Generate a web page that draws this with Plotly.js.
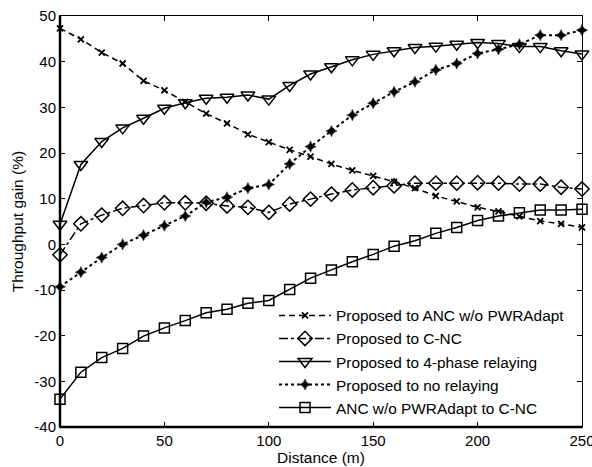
<!DOCTYPE html>
<html>
<head>
<meta charset="utf-8">
<script src="https://cdn.plot.ly/plotly-3.0.1.min.js"></script>
<style>html,body{margin:0;padding:0;background:#fff;}#chart{width:592px;height:467px;}</style>
</head>
<body>
<div id="chart"></div>
<script>
const distance = [0,10,20,30,40,50,60,70,80,90,100,110,120,130,140,150,160,170,180,190,200,210,220,230,240,250];
const propToANC = [47.3,44.9,42.0,39.6,35.8,33.7,31.2,28.6,26.5,24.1,22.4,20.7,19.2,17.6,16.2,15.0,13.7,12.3,10.6,9.4,8.1,7.2,6.1,5.1,4.5,3.7];
const propToCNC = [-2.3,4.5,6.4,7.9,8.5,9.1,9.1,9.0,8.4,8.1,7.0,8.8,9.9,11.0,11.9,12.4,12.8,13.4,13.4,13.4,13.5,13.4,13.2,13.2,12.5,12.1];
const propTo4Phase = [4.4,17.5,22.5,25.5,27.6,29.8,31.0,32.0,32.2,32.7,31.8,34.8,37.3,38.9,40.4,41.6,42.4,43.1,43.4,43.8,44.2,44.0,43.3,43.3,42.4,41.7];
const propToNoRelay = [-9.3,-6.1,-2.9,0.0,2.0,4.1,6.2,9.2,10.3,12.3,13.1,17.6,21.4,24.8,28.3,30.9,33.4,35.6,38.2,39.6,41.8,42.7,43.8,45.8,45.8,46.9];
const ancToCNC = [-33.9,-28.0,-24.8,-22.8,-20.1,-18.3,-16.7,-15.0,-14.2,-12.9,-12.3,-9.9,-7.4,-5.6,-3.8,-2.2,-0.4,0.8,2.4,3.7,5.2,6.2,6.9,7.5,7.5,7.7];
const seriesNames = ["Proposed to ANC w/o PWRAdapt","Proposed to C-NC","Proposed to 4-phase relaying","Proposed to no relaying","ANC w/o PWRAdapt to C-NC"];
const xTicks = [0,50,100,150,200,250];
const yTicks = [-40,-30,-20,-10,0,10,20,30,40,50];

const FONT = "Liberation Sans, Arial, sans-serif";
const traces = [
  {y: propToANC, name: seriesNames[0], line:{dash:'6px,4px', width:1.5, color:'#000'},
   marker:{symbol:'x-thin', size:6, color:'#000', line:{width:1.8, color:'#000'}}},
  {y: propToCNC, name: seriesNames[1], line:{dash:'dashdot', width:1.5, color:'#000'},
   marker:{symbol:'diamond-open', size:11, color:'#000', line:{width:1.5, color:'#000'}}},
  {y: propTo4Phase, name: seriesNames[2], line:{dash:'solid', width:1.5, color:'#000'},
   marker:{symbol:'triangle-down-open', size:12, color:'#000', line:{width:1.5, color:'#000'}}},
  {y: propToNoRelay, name: seriesNames[3], line:{dash:'dot', width:2, color:'#000'},
   marker:{symbol:'star-diamond', size:8, color:'#000', line:{width:0.5, color:'#000'}}},
  {y: ancToCNC, name: seriesNames[4], line:{dash:'solid', width:1.5, color:'#000'},
   marker:{symbol:'square-open', size:10, color:'#000', line:{width:1.5, color:'#000'}}}
].map(t => Object.assign({x: distance, type:'scatter', mode:'lines+markers', cliponaxis:false}, t));

const axisCommon = {
  showgrid:false, zeroline:false, showline:true, linecolor:'#000', linewidth:1,
  mirror:'allticks', ticks:'inside', ticklen:5, tickwidth:1, tickcolor:'#000',
  ticklabeloverflow:'allow',
  tickfont:{family:FONT, size:15, color:'#000'}
};

const layout = {
  width:592, height:467,
  margin:{l:60, r:10, t:16, b:40},
  paper_bgcolor:'#fff', plot_bgcolor:'#fff',
  font:{family:FONT, size:15, color:'#000'},
  showlegend:true,
  legend:{x:0.41, y:0.005, xanchor:'left', yanchor:'bottom', bgcolor:'rgba(255,255,255,0)',
          borderwidth:0, font:{family:FONT, size:15.4, color:'#000'}, itemwidth:52, tracegroupgap:0},
  xaxis:Object.assign({}, axisCommon, {range:[0,250], tickvals:xTicks, ticktext:xTicks.map(String),
          title:{text:'Distance (m)', font:{family:FONT, size:15.5, color:'#000'}, standoff:3}}),
  yaxis:Object.assign({}, axisCommon, {range:[-40,50], tickvals:yTicks, ticktext:yTicks.map(String),
          title:{text:'Throughput gain (%)', font:{family:FONT, size:15.5, color:'#000'}, standoff:6}}),
  shapes:[
    {type:'line', xref:'paper', yref:'paper', x0:0, x1:0, y0:0, y1:1, line:{color:'#000', width:2.5}},
    {type:'line', xref:'paper', yref:'paper', x0:0, x1:1, y0:0, y1:0, line:{color:'#000', width:2.5}}
  ]
};

Plotly.newPlot('chart', traces, layout, {displayModeBar:false, staticPlot:true});
</script>
</body>
</html>
